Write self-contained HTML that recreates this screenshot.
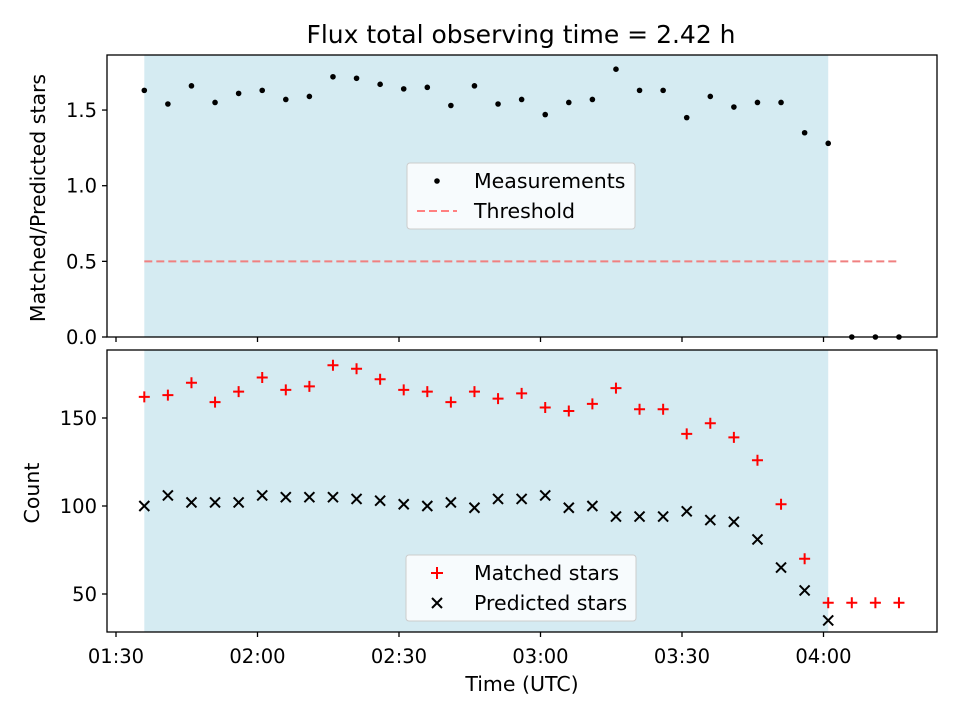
<!DOCTYPE html>
<html><head><meta charset="utf-8"><style>
body{margin:0;background:#fff}
svg{display:block;font-family:"DejaVu Sans","Liberation Sans",sans-serif}
</style></head><body>
<svg id="chart" width="960" height="720" viewBox="0 0 960 720"></svg>
<script>
const times=["01:36","01:41","01:46","01:51","01:56","02:01","02:06","02:11","02:16","02:21","02:26","02:31","02:36","02:41","02:46","02:51","02:56","03:01","03:06","03:11","03:16","03:21","03:26","03:31","03:36","03:41","03:46","03:51","03:56","04:01","04:06","04:11","04:16"];
const ratio=[1.63,1.54,1.66,1.55,1.61,1.63,1.57,1.59,1.72,1.71,1.67,1.64,1.65,1.53,1.66,1.54,1.57,1.47,1.55,1.57,1.77,1.63,1.63,1.45,1.59,1.52,1.55,1.55,1.35,1.28,0,0,0];
const matched=[162,163,170,159,165,173,166,168,180,178,172,166,165,159,165,161,164,156,154,158,167,155,155,141,147,139,126,101,70,45,45,45,45];
const predicted=[100,106,102,102,102,106,105,105,105,104,103,101,100,102,99,104,104,106,99,100,94,94,94,97,92,91,81,65,52,35];
const threshold=0.5;
const shadeStart="01:36", shadeEnd="04:01";
const xTicks=["01:30","02:00","02:30","03:00","03:30","04:00"];
const topYTicks=[0,0.5,1.0,1.5];
const botYTicks=[50,100,150];

const svg=document.getElementById('chart');
const NS='http://www.w3.org/2000/svg';
function mk(t,a,p){const e=document.createElementNS(NS,t);for(const k in a)e.setAttribute(k,a[k]);(p||svg).appendChild(e);return e;}
function mins(s){const [h,m]=s.split(':').map(Number);return h*60+m;}
const L=107,R=937,T1=55,B1=337,T2=350,B2=632;
const x=s=>116+(mins(s)-90)*(141.5/30);
const y1=v=>337-v*151.3;
const y2=v=>506-(v-100)*1.76;

[[T1,B1,'top-observing-window'],[T2,B2,'bottom-observing-window']].forEach(([t,b,n])=>{
 const r=mk('rect',{x:x(shadeStart),y:t,width:x(shadeEnd)-x(shadeStart),height:b-t,fill:'#d5ebf2'});
 
});
const th=mk('line',{x1:x(times[0]),x2:x(times[times.length-1]),y1:y1(threshold),y2:y1(threshold),stroke:'#f08080','stroke-width':2,'stroke-dasharray':'8,4'});

ratio.forEach((v,i)=>{const c=mk('circle',{cx:x(times[i]),cy:y1(v),r:2.8,fill:'#000'});
 });
matched.forEach((v,i)=>{const cx=x(times[i]),cy=y2(v);
 const g=mk('path',{d:`M${cx-5.5},${cy}H${cx+5.5}M${cx},${cy-5.5}V${cy+5.5}`,stroke:'#f00','stroke-width':2});
 });
predicted.forEach((v,i)=>{const cx=x(times[i]),cy=y2(v),d=5;
 const g=mk('path',{d:`M${cx-d},${cy-d}L${cx+d},${cy+d}M${cx-d},${cy+d}L${cx+d},${cy-d}`,stroke:'#000','stroke-width':2});
 });
[[T1,B1,'top-axes-frame'],[T2,B2,'bottom-axes-frame']].forEach(([t,b,n])=>{
 const r=mk('rect',{x:L,y:t,width:R-L,height:b-t,fill:'none',stroke:'#000','stroke-width':1.3});
 });
xTicks.forEach(s=>{const xx=x(s);
 mk('line',{x1:xx,x2:xx,y1:B1,y2:B1+5,stroke:'#000','stroke-width':1.3});
 mk('line',{x1:xx,x2:xx,y1:B2,y2:B2+5,stroke:'#000','stroke-width':1.3});
 const t=mk('text',{x:xx,y:B2+31,'font-size':19.5,'text-anchor':'middle'});t.textContent=s;
 });
topYTicks.forEach(v=>{const yy=y1(v);mk('line',{x1:L-5,x2:L,y1:yy,y2:yy,stroke:'#000','stroke-width':1.3});
 const t=mk('text',{x:L-10,y:yy+7,'font-size':19.5,'text-anchor':'end'});t.textContent=v.toFixed(1);
 });
botYTicks.forEach(v=>{const yy=y2(v);mk('line',{x1:L-5,x2:L,y1:yy,y2:yy,stroke:'#000','stroke-width':1.3});
 const t=mk('text',{x:L-10,y:yy+7,'font-size':19.5,'text-anchor':'end'});t.textContent=v;
 });
</script>
<svg width="960" height="720" style="position:absolute;left:0;top:0" font-family="DejaVu Sans, Liberation Sans, sans-serif">
<text x="521" y="43" font-size="25" text-anchor="middle">Flux total observing time = 2.42 h</text>
<text x="522" y="691" font-size="20.5" text-anchor="middle">Time (UTC)</text>
<text transform="translate(45,198) rotate(-90)" font-size="20.5" text-anchor="middle">Matched/Predicted stars</text>
<text transform="translate(39,493) rotate(-90)" font-size="20.5" text-anchor="middle">Count</text>
<g font-size="20.5">
<rect x="407" y="163" width="228" height="66" rx="3" fill="#fff" fill-opacity="0.8" stroke="#ccc"/>
<circle cx="437" cy="181" r="2.8" fill="#000"/>
<text x="474" y="188">Measurements</text>
<line x1="417" x2="457" y1="211" y2="211" stroke="#ff8080" stroke-width="2" stroke-dasharray="8,4"/>
<text x="474" y="218">Threshold</text>
</g>
<g font-size="20.5">
<rect x="406" y="555" width="230" height="66" rx="3" fill="#fff" fill-opacity="0.8" stroke="#ccc"/>
<path d="M431,573H443M437,567V579" stroke="#f00" stroke-width="2"/>
<text x="474" y="580">Matched stars</text>
<path d="M432,598L442,608M432,608L442,598" stroke="#000" stroke-width="2"/>
<text x="474" y="610">Predicted stars</text>
</g>
</svg>
</body></html>
